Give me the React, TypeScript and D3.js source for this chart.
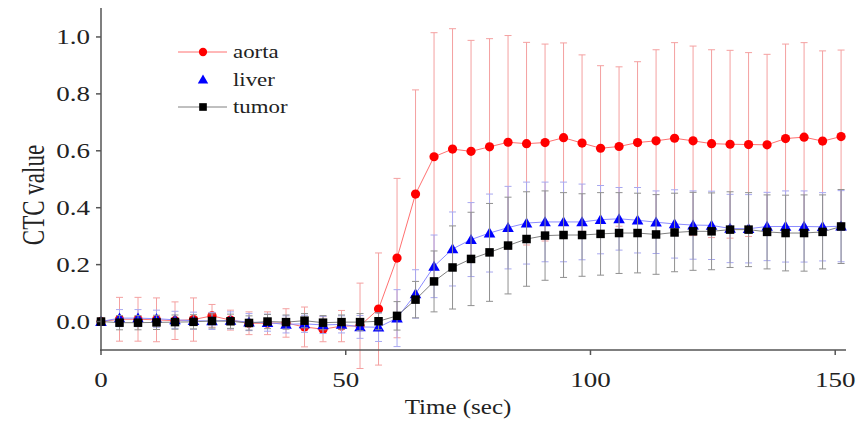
import React from "react";
import * as d3 from "d3";

// sampling times (sec)
const times = [
  0, 3.78, 7.56, 11.34, 15.12, 18.9, 22.68, 26.46, 30.24, 34.02, 37.8, 41.58, 45.36,
  49.14, 52.92, 56.7, 60.48, 64.26, 68.04, 71.82, 75.6, 79.38, 83.16, 86.94, 90.72,
  94.5, 98.28, 102.06, 105.84, 109.62, 113.4, 117.18, 120.96, 124.74, 128.52, 132.3,
  136.08, 139.86, 143.64, 147.42, 151.2,
];

const aorta = [
  0, 0.008, 0.008, 0.006, 0.003, 0.007, 0.02, 0.005, -0.006, -0.006, -0.005, -0.019,
  -0.027, -0.016, -0.015, 0.044, 0.223, 0.448, 0.579, 0.606, 0.598, 0.614, 0.63, 0.625,
  0.629, 0.646, 0.627, 0.609, 0.615, 0.629, 0.635, 0.644, 0.635, 0.625, 0.623, 0.622,
  0.621, 0.643, 0.648, 0.634, 0.65,
];
const aortaErr = [
  0, 0.077, 0.077, 0.077, 0.066, 0.076, 0.04, 0.035, 0.04, 0.04, 0.05, 0.07, 0.044,
  0.055, 0.15, 0.197, 0.28, 0.366, 0.436, 0.423, 0.39, 0.38, 0.375, 0.356, 0.346, 0.333,
  0.31, 0.29, 0.28, 0.284, 0.32, 0.336, 0.333, 0.33, 0.33, 0.323, 0.318, 0.332, 0.332,
  0.317, 0.304,
];

const liver = [
  0, 0.012, 0.012, 0.01, 0.006, 0.003, 0.002, 0.004, -0.002, -0.004, -0.01, -0.008,
  -0.012, -0.01, -0.019, -0.02, 0.012, 0.097, 0.194, 0.255, 0.288, 0.311, 0.33, 0.346,
  0.35, 0.35, 0.35, 0.358, 0.361, 0.356, 0.349, 0.343, 0.339, 0.338, 0.327, 0.326, 0.334,
  0.334, 0.334, 0.333, 0.335,
];
const liverErr = [
  0, 0.03, 0.03, 0.03, 0.03, 0.03, 0.03, 0.03, 0.03, 0.03, 0.03, 0.03, 0.03, 0.03, 0.04,
  0.05, 0.1, 0.085, 0.11, 0.13, 0.13, 0.137, 0.145, 0.144, 0.14, 0.14, 0.133, 0.12, 0.11,
  0.115, 0.11, 0.12, 0.12, 0.12, 0.12, 0.12, 0.12, 0.125, 0.125, 0.12, 0.125,
];

const tumor = [
  0, -0.004, -0.004, -0.003, -0.002, -0.001, 0.002, 0.001, -0.005, 0, -0.002, 0.003,
  -0.004, -0.002, -0.002, 0.001, 0.02, 0.077, 0.141, 0.19, 0.22, 0.243, 0.267, 0.29,
  0.302, 0.304, 0.304, 0.308, 0.311, 0.311, 0.306, 0.313, 0.317, 0.317, 0.323, 0.323,
  0.315, 0.311, 0.311, 0.315, 0.334,
];
const tumorErr = [
  0, 0.025, 0.025, 0.025, 0.025, 0.025, 0.025, 0.025, 0.025, 0.025, 0.025, 0.025, 0.025,
  0.025, 0.03, 0.03, 0.05, 0.064, 0.107, 0.146, 0.164, 0.172, 0.17, 0.166, 0.157, 0.149,
  0.145, 0.145, 0.142, 0.14, 0.14, 0.138, 0.137, 0.135, 0.133, 0.13, 0.13, 0.133, 0.134,
  0.13, 0.13,
];

const xTicks = [0, 50, 100, 150];
const yTicks = [0, 0.2, 0.4, 0.6, 0.8, 1.0];

const series = [
  { name: "aorta", values: aorta, err: aortaErr, color: "#ff0000", line: "#ff7070", bar: "#f4a0a0", shape: "circle", legendLine: true },
  { name: "liver", values: liver, err: liverErr, color: "#0000ff", line: "#8c8cff", bar: "#a8a8f0", shape: "triangle", legendLine: false },
  { name: "tumor", values: tumor, err: tumorErr, color: "#000000", line: "#808080", bar: "#909090", shape: "square", legendLine: true },
];

const W = 860;
const H = 422;
const font = "Liberation Serif";
const ink = "#222";

const Marker = ({ shape, x, y, color, size = 1 }) => {
  if (shape === "circle") return <circle cx={x} cy={y} r={4.6 * size} fill={color} />;
  if (shape === "square") {
    const s = 8.5 * size;
    return <rect x={x - s / 2} y={y - s / 2} width={s} height={s} fill={color} />;
  }
  const sym = d3.symbol(d3.symbolTriangle, 58 * size * size)();
  return <path d={sym} transform={`translate(${x},${y + 1})`} fill={color} />;
};

// text that is stretched horizontally like the scanned figure
const Wide = ({ x, y, sx, size, anchor = "start", children }) => (
  <text
    transform={`translate(${x},${y}) scale(${sx},1)`}
    textAnchor={anchor}
    fontFamily={font}
    fontSize={size}
    fill={ink}
  >
    {children}
  </text>
);

export default function App() {
  const x = d3.scaleLinear().domain([0, 152]).range([101, 845]);
  const y = d3.scaleLinear().domain([-0.1, 1.1]).range([350, 8.5]);
  const fmt = d3.format(".1f");

  const line = (vals) =>
    d3
      .line()
      .x((_, i) => x(times[i]))
      .y((d) => y(d))(vals);

  return (
    <div style={{ position: "absolute", left: 0, top: 0 }}>
      <svg width={W} height={H} style={{ display: "block", background: "#fff" }}>
        {/* series */}
        {series.map((s) => (
          <g key={s.name}>
            {s.values.map((v, i) =>
              s.err[i] > 0 ? (
                <g key={i} stroke={s.bar} strokeWidth={1}>
                  <line x1={x(times[i])} x2={x(times[i])} y1={y(v - s.err[i])} y2={y(v + s.err[i])} />
                  <line x1={x(times[i]) - 3.5} x2={x(times[i]) + 3.5} y1={y(v + s.err[i])} y2={y(v + s.err[i])} />
                  <line x1={x(times[i]) - 3.5} x2={x(times[i]) + 3.5} y1={y(v - s.err[i])} y2={y(v - s.err[i])} />
                </g>
              ) : null
            )}
            <path d={line(s.values)} fill="none" stroke={s.line} strokeWidth={1} />
            {s.values.map((v, i) => (
              <Marker key={i} shape={s.shape} x={x(times[i])} y={y(v)} color={s.color} />
            ))}
          </g>
        ))}

        {/* axes */}
        <g stroke="#555" strokeWidth={1.5}>
          <line x1={101} x2={101} y1={8} y2={351} />
          <line x1={100} x2={846} y1={350} y2={350} />
          {xTicks.map((t) => (
            <line key={t} x1={x(t)} x2={x(t)} y1={350} y2={355} />
          ))}
          {yTicks.map((t) => (
            <line key={t} x1={96} x2={101} y1={y(t)} y2={y(t)} />
          ))}
        </g>
        {xTicks.map((t) => (
          <Wide key={t} x={x(t)} y={387} sx={1.35} size={20} anchor="middle">
            {t}
          </Wide>
        ))}
        {yTicks.map((t) => (
          <Wide key={t} x={90} y={y(t) + 7} sx={1.35} size={20} anchor="end">
            {fmt(t)}
          </Wide>
        ))}
        <Wide x={458} y={414} sx={1.25} size={20} anchor="middle">
          Time (sec)
        </Wide>
        <text
          transform="translate(44,195) scale(1.35,1) rotate(-90)"
          textAnchor="middle"
          fontFamily={font}
          fontSize={23}
          fill={ink}
        >
          CTC value
        </text>

        {/* legend */}
        {series.map((s, i) => {
          const ly = 52 + i * 27.5;
          return (
            <g key={s.name}>
              {s.legendLine && <line x1={178} x2={227} y1={ly} y2={ly} stroke={s.line} strokeWidth={1} />}
              <Marker shape={s.shape} x={203} y={ly} color={s.color} size={0.9} />
              <Wide x={233} y={ly + 6} sx={1.27} size={18}>
                {s.name}
              </Wide>
            </g>
          );
        })}
      </svg>
    </div>
  );
}
